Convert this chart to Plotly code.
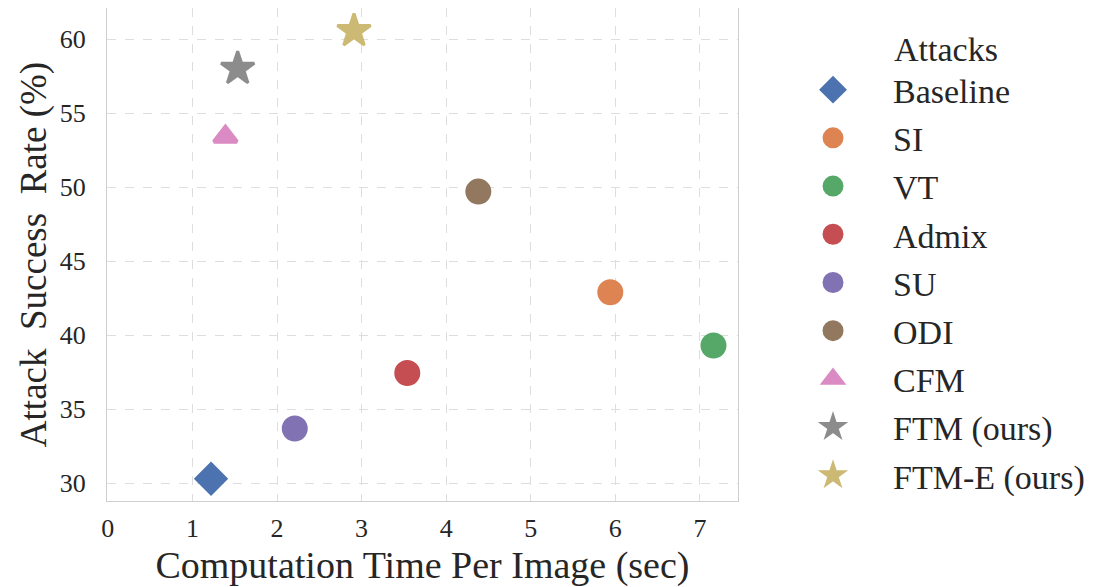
import plotly.graph_objects as go

methods = ["Baseline", "SI", "VT", "Admix", "SU", "ODI", "CFM", "FTM (ours)", "FTM-E (ours)"]
time_sec = [1.22, 5.94, 7.16, 3.54, 2.21, 4.38, 1.39, 1.535, 2.91]
success_rate = [30.3, 42.9, 39.3, 37.45, 33.7, 49.7, 53.4, 58.0, 60.55]
colors = ["#4C72B0", "#DD8452", "#55A868", "#C44E52", "#8172B3", "#937860", "#DA8BC3", "#8C8C8C", "#CCB974"]
symbols = ["diamond", "circle", "circle", "circle", "circle", "circle", "triangle-up", "star", "star"]
sizes = [21, 21, 21, 21, 21, 21, 20, 25, 25]
edge_widths = [5, 5, 5, 5, 5, 5, 4, 3, 3]

FONT = "Liberation Serif"
TXT = "#262626"

fig = go.Figure()
for i, m in enumerate(methods):
    fig.add_trace(go.Scatter(
        x=[time_sec[i]], y=[success_rate[i]], mode="markers", name=m,
        legendgroup=m,
        marker=dict(symbol=symbols[i], size=sizes[i], color=colors[i],
                    line=dict(width=edge_widths[i], color=colors[i])),
    ))

axis_common = dict(
    showline=True, linecolor="#cfcfcf", linewidth=1.3, mirror=True,
    showgrid=True, gridcolor="#dedede", griddash="dash", gridwidth=1,
    zeroline=False, ticks="", automargin=False,
    tickfont=dict(family=FONT, size=26, color=TXT),
)

fig.update_layout(
    width=1100, height=579,
    margin=dict(l=99, r=370, t=0, b=86),
    plot_bgcolor="white", paper_bgcolor="white",
    font=dict(family=FONT, color=TXT),
    xaxis=dict(range=[-0.01, 7.45], tickvals=[0, 1, 2, 3, 4, 5, 6, 7],
               ticklabelstandoff=4,
               title=dict(text="Computation Time Per Image (sec)", font=dict(family=FONT, size=38), standoff=12),
               **axis_common),
    yaxis=dict(range=[28.8, 62.1], tickvals=[30, 35, 40, 45, 50, 55, 60],
               ticklabelstandoff=15,
               title=dict(text="Attack\u00a0 Success\u00a0 Rate (%)", font=dict(family=FONT, size=37), standoff=1),
               **axis_common),
    legend=dict(
        x=1.0555, y=0.982, xanchor="left", yanchor="top",
        font=dict(family=FONT, size=34, color=TXT),
        title=dict(text="\u00a0" * 14 + "Attacks", font=dict(family=FONT, size=34, color=TXT)),
        itemwidth=110, tracegroupgap=1, bgcolor="rgba(0,0,0,0)",
        maxheight=600,
    ),
)

fig.write_html("out.html")
